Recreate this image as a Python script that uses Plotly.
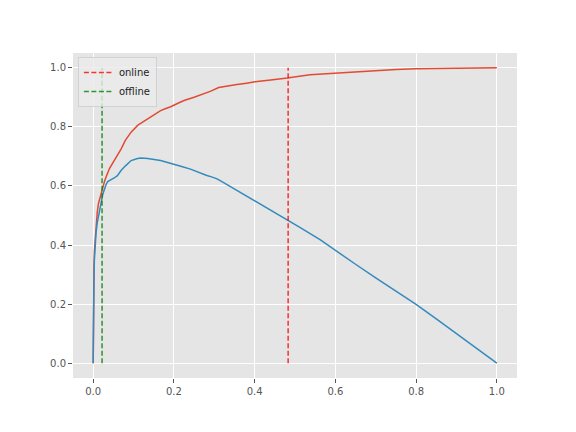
import plotly.graph_objects as go

# Red curve (cumulative, rising to 1)
red_x = [0, 0.0005, 0.001, 0.002, 0.003, 0.005, 0.007, 0.01, 0.013, 0.016, 0.02, 0.024, 0.028,
         0.032, 0.036, 0.04, 0.045, 0.052, 0.06, 0.069, 0.08, 0.094, 0.11, 0.135, 0.15, 0.167,
         0.18, 0.192, 0.21, 0.225, 0.25, 0.274, 0.29, 0.311, 0.33, 0.356, 0.38, 0.401, 0.44,
         0.481, 0.537, 0.58, 0.62, 0.65, 0.7, 0.75, 0.8, 0.85, 0.9, 0.95, 1.0]
red_y = [0, 0.2, 0.25, 0.33, 0.38, 0.43, 0.46, 0.51, 0.54, 0.555, 0.58, 0.60, 0.615,
         0.63, 0.645, 0.658, 0.67, 0.686, 0.70, 0.725, 0.755, 0.782, 0.805, 0.828, 0.84, 0.855,
         0.862, 0.868, 0.880, 0.889, 0.900, 0.911, 0.920, 0.933, 0.938, 0.943, 0.948, 0.953, 0.959,
         0.965, 0.976, 0.980, 0.984, 0.987, 0.991, 0.994, 0.997, 0.998, 0.999, 1.0, 1.0]

# Blue curve (rises then declines to 0)
blue_x = [0, 0.0005, 0.001, 0.002, 0.003, 0.005, 0.007, 0.01, 0.013, 0.016, 0.02, 0.024, 0.028,
          0.032, 0.036, 0.04, 0.045, 0.052, 0.06, 0.069, 0.08, 0.094, 0.11, 0.118, 0.135, 0.15,
          0.167, 0.18, 0.2, 0.217, 0.241, 0.266, 0.28, 0.295, 0.307, 0.32, 0.335, 0.348, 0.375,
          0.406, 0.45, 0.482, 0.512, 0.562, 0.603, 0.65, 0.7, 0.75, 0.8, 0.85, 0.9, 0.95, 1.0]
blue_y = [0, 0.2, 0.24, 0.3, 0.35, 0.40, 0.44, 0.475, 0.50, 0.517, 0.545, 0.573, 0.59,
          0.605, 0.615, 0.618, 0.62, 0.627, 0.635, 0.652, 0.668, 0.686, 0.693, 0.695, 0.693, 0.69,
          0.686, 0.681, 0.674, 0.667, 0.657, 0.643, 0.636, 0.630, 0.624, 0.614, 0.602, 0.59, 0.569,
          0.545, 0.51, 0.485, 0.46, 0.418, 0.378, 0.335, 0.289, 0.244, 0.199, 0.15, 0.1, 0.05, 0.0]

online_x = 0.483
offline_x = 0.022
vline_y = [0, 1.0]

tick_vals = [0.0, 0.2, 0.4, 0.6, 0.8, 1.0]
tick_text = ["0.0", "0.2", "0.4", "0.6", "0.8", "1.0"]

fig = go.Figure()
fig.add_trace(go.Scatter(x=red_x, y=red_y, mode="lines", line=dict(color="#E24A33", width=1.5),
                         showlegend=False))
fig.add_trace(go.Scatter(x=blue_x, y=blue_y, mode="lines", line=dict(color="#348ABD", width=1.5),
                         showlegend=False))
fig.add_trace(go.Scatter(x=[online_x, online_x], y=vline_y, mode="lines", name="online",
                         line=dict(color="rgba(255,0,0,0.8)", width=1.5, dash="5px,2.5px")))
fig.add_trace(go.Scatter(x=[offline_x, offline_x], y=vline_y, mode="lines", name="offline",
                         line=dict(color="rgba(0,128,0,0.8)", width=1.5, dash="5px,2.5px")))

axis_common = dict(
    showgrid=True, gridcolor="white", gridwidth=1, zeroline=False,
    ticks="outside", ticklen=4, tickcolor="#555555", tickwidth=1,
    tickfont=dict(family="DejaVu Sans", size=10, color="#555555"),
    showline=False, tickvals=tick_vals, ticktext=tick_text,
)
fig.update_xaxes(range=[-0.05, 1.05], **axis_common)
fig.update_yaxes(range=[-0.05, 1.05], **axis_common)

fig.update_layout(
    width=568, height=424,
    margin=dict(l=65, r=59, t=45, b=54),
    paper_bgcolor="white", plot_bgcolor="#E5E5E5",
    font=dict(family="DejaVu Sans", size=10, color="#222222"),
    legend=dict(x=0.011, y=0.988, xanchor="left", yanchor="top",
                bgcolor="rgba(235,235,235,0.8)", bordercolor="rgba(204,204,204,0.8)", borderwidth=1,
                font=dict(size=10, color="#222222"), tracegroupgap=0),
)
fig.write_html("out.html")
